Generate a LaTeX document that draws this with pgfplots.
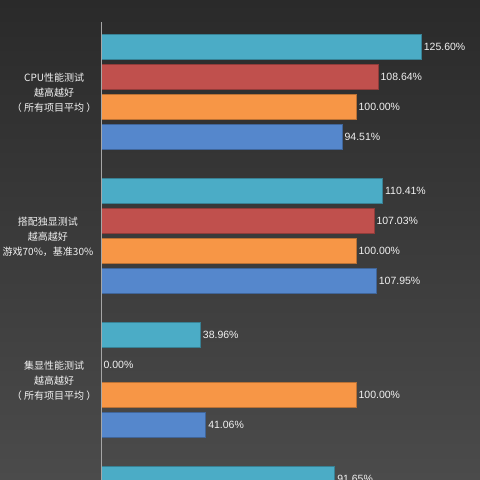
\documentclass[border=0pt]{standalone}
\usepackage{pgfplots}
\pgfplotsset{compat=1.18}
\usepackage{fontspec}
\setmainfont{Liberation Sans}
\newfontfamily\cjk{Noto Sans CJK SC}
\definecolor{bgtop}{HTML}{2A2A2A}
\definecolor{bgbot}{HTML}{4B4B4B}
\definecolor{sCyan}{HTML}{4BACC6}
\definecolor{sRed}{HTML}{C0504D}
\definecolor{sOrange}{HTML}{F79646}
\definecolor{sBlue}{HTML}{5587CC}
\definecolor{txt}{HTML}{F2F2F2}
\begin{document}
\begin{tikzpicture}
\path[use as bounding box] (0,0) rectangle (480pt,480pt);
\shade[top color=bgtop, bottom color=bgbot] (0,0) rectangle (480pt,480pt);
\begin{axis}[
    at={(0,0)}, anchor=south west,
    scale only axis, width=480pt, height=480pt,
    xmin=-39.61, xmax=148.63,
    ymin=0, ymax=480, y dir=reverse,
    axis lines=none,
    xbar, bar width=25pt, bar shift=0pt,
    point meta=explicit symbolic,
    nodes near coords,
    every node near coord/.append style={anchor=west, xshift=-1pt, font=\fontsize{10.5}{12}\selectfont, text=txt},
]
% cyan series
\addplot[fill=sCyan, draw=sCyan!75!black, line width=0.5pt] coordinates {
  (125.60,47) [125.60\%] (110.41,191) [110.41\%] (38.96,335) [38.96\%] (91.65,479) [91.65\%]};
% red series
\addplot[fill=sRed, draw=sRed!75!black, line width=0.5pt] coordinates {
  (108.64,77) [108.64\%] (107.03,221) [107.03\%] (0,365) [0.00\%]};
% orange series
\addplot[fill=sOrange, draw=sOrange!75!black, line width=0.5pt] coordinates {
  (100.00,107) [100.00\%] (100.00,251) [100.00\%] (100.00,395) [100.00\%]};
% blue series
\addplot[fill=sBlue, draw=sBlue!75!black, line width=0.5pt] coordinates {
  (94.51,137) [94.51\%] (107.95,281) [107.95\%] (41.06,425) [41.06\%]};
\draw[gray!70, line width=0.6pt] (axis cs:0,22) -- (axis cs:0,480);
\begin{scope}[every node/.style={align=center, text=txt, font=\cjk\fontsize{10}{15}\selectfont}]
\node at (axis cs:-18.4,92.5) {CPU性能测试\\越高越好\\（ 所有项目平均 ）};
\node at (axis cs:-20.8,236.5) {搭配独显测试\\越高越好\\游戏70\%，基准30\%};
\node at (axis cs:-18.4,380.5) {集显性能测试\\越高越好\\（ 所有项目平均 ）};
\end{scope}
\end{axis}
\end{tikzpicture}
\end{document}
